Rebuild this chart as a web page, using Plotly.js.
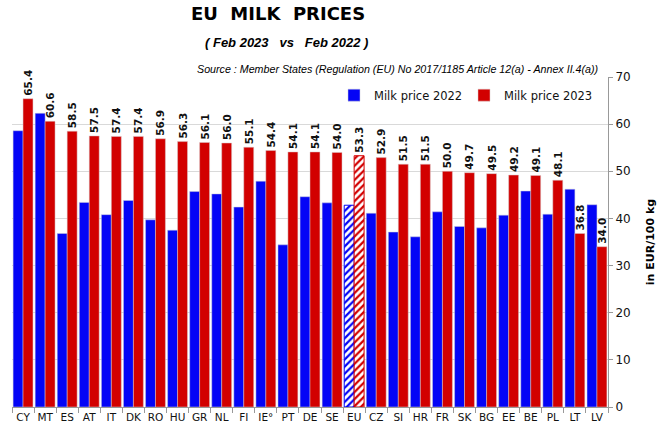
<!DOCTYPE html>
<html><head><meta charset="utf-8">
<script src="https://cdn.plot.ly/plotly-3.0.1.min.js"></script>
<style>body{margin:0;padding:0;background:#fff}#chart{width:660px;height:431px}</style>
</head><body><div id="chart"></div>
<script>
const countries = ["CY","MT","ES","AT","IT","DK","RO","HU","GR","NL","FI","IE°","PT","DE","SE","EU","CZ","SI","HR","FR","SK","BG","EE","BE","PL","LT","LV"];
const price2022 = [58.6,62.3,36.8,43.4,40.8,43.8,39.7,37.5,45.7,45.2,42.4,47.9,34.4,44.6,43.3,42.8,41.1,37.1,36.1,41.4,38.3,38.0,40.7,45.8,40.9,46.2,42.9];
const price2023 = [65.4,60.6,58.5,57.5,57.4,57.4,56.9,56.3,56.1,56.0,55.1,54.4,54.1,54.1,54.0,53.3,52.9,51.5,51.5,50.0,49.7,49.5,49.2,49.1,48.1,36.8,34.0];
const hatchedCategory = "EU";

const BLUE = "#0404F6", RED = "#D20000";
const isH = countries.map(c => c === hatchedCategory);

const trace2022 = {
  type: "bar", name: "Milk price 2022", x: countries, y: price2022,
  marker: {
    color: BLUE,
    line: {color: isH.map(h => h ? BLUE : "#C8C8D8"), width: isH.map(h => h ? 1 : 0.5)},
    pattern: {shape: isH.map(h => h ? "/" : ""), bgcolor: isH.map(h => h ? "#ffffff" : BLUE),
              fgcolor: BLUE, size: 5, solidity: 0.45, fillmode: "replace"}
  },
  hoverinfo: "skip"
};
const trace2023 = {
  type: "bar", name: "Milk price 2023", x: countries, y: price2023,
  marker: {
    color: RED,
    line: {color: isH.map(h => h ? RED : "#D8C8C8"), width: isH.map(h => h ? 1 : 0.5)},
    pattern: {shape: isH.map(h => h ? "/" : ""), bgcolor: isH.map(h => h ? "#ffffff" : RED),
              fgcolor: RED, size: 5, solidity: 0.45, fillmode: "replace"}
  },
  texttemplate: "%{y:.1f}", textposition: "outside", textangle: -90, constraintext: "none",
  textfont: {family: "DejaVu Sans", size: 10.5, color: "#111", weight: "bold"},
  cliponaxis: false,
  hoverinfo: "skip"
};

const layout = {
  width: 660, height: 431,
  margin: {l: 12, r: 52, t: 77, b: 24},
  paper_bgcolor: "#fff", plot_bgcolor: "#fff",
  barmode: "group", bargap: 0.1, bargroupgap: 0,
  font: {family: "DejaVu Sans", color: "#111"},
  showlegend: true,
  legend: {orientation: "h", x: (334 - 12)/596, y: 0.945, xanchor: "left", yanchor: "middle",
           font: {family: "DejaVu Sans", size: 11.5, color: "#111"}, bgcolor: "rgba(0,0,0,0)",
           itemwidth: 30, entrywidth: 85, entrywidthmode: "pixels", tracegroupgap: 0},
  title: {text: "<b>EU  MILK  PRICES</b>", x: 278/660, xanchor: "center", y: 1 - 14/431, yanchor: "middle",
          xref: "container", font: {family: "DejaVu Sans", size: 18, color: "#000"}},
  xaxis: {
    type: "category", tickson: "boundaries", ticks: "outside", ticklen: 5, tickcolor: "#999",
    tickangle: 0,
    showline: true, linecolor: "#999", linewidth: 1, showgrid: false,
    tickfont: {family: "DejaVu Sans", size: 10.5, color: "#111"}
  },
  yaxis: {
    side: "right", range: [0, 70], dtick: 10, showgrid: true, gridcolor: "#D9D9D9", gridwidth: 1,
    showline: true, linecolor: "#999", ticks: "outside", ticklen: 4, tickcolor: "#999",
    tickfont: {family: "DejaVu Sans", size: 12, color: "#111"}, zeroline: false,
    title: {text: "<b>in EUR/100 kg</b>", font: {family: "DejaVu Sans", size: 11, color: "#000"}, standoff: 16}
  },
  annotations: [
    {text: "<b><i>( Feb 2023   vs   Feb 2022 )</i></b>", xref: "paper", yref: "paper",
     x: (286 - 12)/596, y: (407 - 42)/330, xanchor: "center", yanchor: "middle", showarrow: false,
     font: {family: "Liberation Sans", size: 13, color: "#000"}},
    {text: "<i>Source : Member States (Regulation (EU) No 2017/1185 Article 12(a) - Annex II.4(a))</i>", xref: "paper", yref: "paper",
     x: (397 - 12)/596, y: (407 - 69)/330, xanchor: "center", yanchor: "middle", showarrow: false,
     font: {family: "Liberation Sans Narrow, Liberation Sans", size: 10.7, color: "#000"}}
  ]
};

Plotly.newPlot("chart", [trace2022, trace2023], layout, {displayModeBar: false, staticPlot: true});
</script></body></html>
